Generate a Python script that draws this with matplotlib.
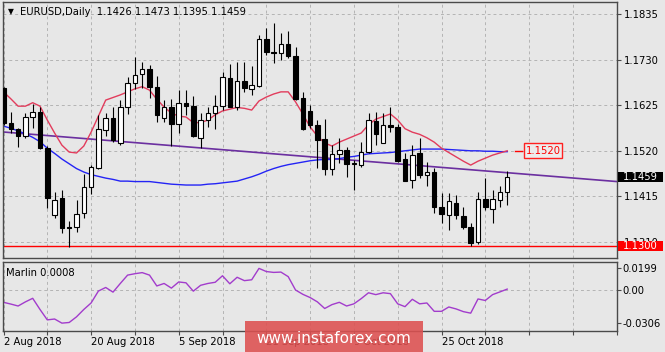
import numpy as np
import pandas as pd
import matplotlib
matplotlib.use("Agg")
import matplotlib.pyplot as plt
from matplotlib.patches import Rectangle

# ---------------- data ----------------
dates = pd.bdate_range("2018-08-02", periods=70)

opens = [1.1664, 1.1585, 1.1570, 1.1553, 1.1597, 1.1610, 1.1526, 1.1372, 1.1410, 1.1343,
         1.1343, 1.1376, 1.1437, 1.1480, 1.1568, 1.1595, 1.1539, 1.1620, 1.1677, 1.1697,
         1.1708, 1.1668, 1.1595, 1.1620, 1.1581, 1.1630, 1.1623, 1.1549, 1.1591, 1.1607,
         1.1623, 1.1687, 1.1622, 1.1682, 1.1662, 1.1670, 1.1777, 1.1748, 1.1746, 1.1766,
         1.1739, 1.1641, 1.1612, 1.1580, 1.1547, 1.1477, 1.1513, 1.1522, 1.1490, 1.1487,
         1.1518, 1.1589, 1.1539, 1.1580, 1.1574, 1.1500, 1.1453, 1.1516, 1.1464, 1.1472,
         1.1391, 1.1372, 1.1400, 1.1370, 1.1343, 1.1310, 1.1408, 1.1385, 1.1406, 1.1426]
highs = [1.1668, 1.1610, 1.1572, 1.1607, 1.1628, 1.1620, 1.1530, 1.1426, 1.1430, 1.1357,
         1.1406, 1.1466, 1.1487, 1.1603, 1.1607, 1.1620, 1.1637, 1.1690, 1.1736, 1.1726,
         1.1718, 1.1693, 1.1637, 1.1640, 1.1660, 1.1660, 1.1646, 1.1608, 1.1620, 1.1649,
         1.1703, 1.1720, 1.1726, 1.1726, 1.1716, 1.1787, 1.1803, 1.1814, 1.1793, 1.1797,
         1.1760, 1.1655, 1.1626, 1.1591, 1.1593, 1.1533, 1.1549, 1.1529, 1.1499, 1.1541,
         1.1607, 1.1610, 1.1607, 1.1622, 1.1582, 1.1515, 1.1533, 1.1549, 1.1495, 1.1480,
         1.1423, 1.1423, 1.1418, 1.1390, 1.1354, 1.1426, 1.1457, 1.1430, 1.1439, 1.1473]
lows = [1.1580, 1.1560, 1.1529, 1.1549, 1.1572, 1.1525, 1.1387, 1.1364, 1.1330, 1.1299,
        1.1333, 1.1364, 1.1420, 1.1478, 1.1553, 1.1541, 1.1533, 1.1605, 1.1662, 1.1664,
        1.1641, 1.1587, 1.1587, 1.1530, 1.1561, 1.1603, 1.1552, 1.1526, 1.1576, 1.1570,
        1.1614, 1.1620, 1.1614, 1.1656, 1.1649, 1.1668, 1.1741, 1.1723, 1.1730, 1.1735,
        1.1637, 1.1568, 1.1573, 1.1480, 1.1464, 1.1464, 1.1491, 1.1459, 1.1430, 1.1483,
        1.1515, 1.1533, 1.1537, 1.1564, 1.1494, 1.1450, 1.1433, 1.1457, 1.1439, 1.1376,
        1.1354, 1.1337, 1.1362, 1.1339, 1.1300, 1.1306, 1.1383, 1.1353, 1.1390, 1.1395]
closes = [1.1583, 1.1570, 1.1553, 1.1597, 1.1610, 1.1526, 1.1410, 1.1406, 1.1341, 1.1342,
          1.1374, 1.1437, 1.1483, 1.1570, 1.1595, 1.1545, 1.1620, 1.1677, 1.1695, 1.1708,
          1.1668, 1.1603, 1.1620, 1.1582, 1.1630, 1.1623, 1.1554, 1.1591, 1.1607, 1.1623,
          1.1690, 1.1622, 1.1682, 1.1664, 1.1672, 1.1777, 1.1749, 1.1745, 1.1766, 1.1739,
          1.1639, 1.1570, 1.1580, 1.1545, 1.1477, 1.1513, 1.1522, 1.1490, 1.1491, 1.1518,
          1.1591, 1.1559, 1.1580, 1.1574, 1.1497, 1.1451, 1.1510, 1.1464, 1.1470, 1.1390,
          1.1374, 1.1403, 1.1372, 1.1343, 1.1308, 1.1408, 1.1390, 1.1408, 1.1426, 1.1459]

ma_red = [1.1656, 1.1640, 1.1623, 1.1623, 1.1631, 1.1623, 1.1591, 1.1561, 1.1533, 1.1517,
          1.1515, 1.1531, 1.1563, 1.1600, 1.1637, 1.1643, 1.1649, 1.1656, 1.1663, 1.1668,
          1.1660, 1.1639, 1.1621, 1.1607, 1.1600, 1.1598, 1.1585, 1.1585, 1.1591, 1.1603,
          1.1612, 1.1616, 1.1620, 1.1618, 1.1614, 1.1635, 1.1644, 1.1651, 1.1656, 1.1656,
          1.1633, 1.1605, 1.1575, 1.1554, 1.1538, 1.1531, 1.1540, 1.1547, 1.1554, 1.1561,
          1.1580, 1.1593, 1.1599, 1.1605, 1.1591, 1.1571, 1.1563, 1.1558, 1.1550, 1.1540,
          1.1526, 1.1516, 1.1506, 1.1496, 1.1487, 1.1496, 1.1503, 1.1510, 1.1515, 1.1520]
ma_blue = [1.1577, 1.1572, 1.1566, 1.1559, 1.1551, 1.1541, 1.1526, 1.1514, 1.1501, 1.1490,
           1.1479, 1.1471, 1.1465, 1.1461, 1.1457, 1.1454, 1.1450, 1.1450, 1.1449, 1.1449,
           1.1449, 1.1447, 1.1445, 1.1443, 1.1442, 1.1441, 1.1441, 1.1441, 1.1443, 1.1444,
           1.1446, 1.1448, 1.1450, 1.1455, 1.1460, 1.1466, 1.1473, 1.1479, 1.1484, 1.1488,
           1.1491, 1.1494, 1.1497, 1.1499, 1.1500, 1.1500, 1.1502, 1.1505, 1.1507, 1.1510,
           1.1513, 1.1514, 1.1515, 1.1516, 1.1518, 1.1520, 1.1522, 1.1524, 1.1524, 1.1524,
           1.1524, 1.1523, 1.1522, 1.1521, 1.1520, 1.1520, 1.1519, 1.1519, 1.1518, 1.1518]
marlin = [-0.0114, -0.0130, -0.0148, -0.0110, -0.0077, -0.0180, -0.0276, -0.0268, -0.0306, -0.0300,
          -0.0248, -0.0180, -0.0120, -0.0010, 0.0023, -0.0020, 0.0060, 0.0137, 0.0150, 0.0160,
          0.0137, 0.0037, 0.0060, 0.0017, 0.0074, 0.0066, -0.0011, 0.0043, 0.0060, 0.0071,
          0.0131, 0.0057, 0.0117, 0.0086, 0.0094, 0.0199, 0.0170, 0.0162, 0.0165, 0.0123,
          0.0000, -0.0040, -0.0070, -0.0110, -0.0171, -0.0135, -0.0114, -0.0148, -0.0128, -0.0080,
          -0.0026, -0.0043, -0.0026, -0.0034, -0.0128, -0.0154, -0.0086, -0.0128, -0.0120, -0.0197,
          -0.0197, -0.0157, -0.0175, -0.0200, -0.0214, -0.0083, -0.0097, -0.0043, -0.0018, 0.0008]

trend_bars = [-0.48, 84.04]
trend_prices = [1.1564, 1.1449]
support_level = 1.1300
label_level = 1.1520
price_ticks = [1.1310, 1.1415, 1.1520, 1.1625, 1.1730, 1.1835]
marlin_ticks = [-0.0306, 0.0, 0.0199]
marlin_tick_labels = ["-0.0306", "0.00", "0.0199"]
title = "EURUSD,Daily  1.1426 1.1473 1.1395 1.1459"
marlin_title = "Marlin 0.0008"

# ---------------- figure ----------------
W, H = 665, 352
fig = plt.figure(figsize=(W / 100, H / 100), dpi=100)
bg = "#e7e7e7"
fig.patch.set_facecolor(bg)
plt.rcParams["font.family"] = ["DejaVu Sans"]

def fx(px):
    return px / W

def fy(py):
    return 1 - py / H

L, R = 2.7, 616.7
ax = fig.add_axes([fx(L), fy(258), fx(R) - fx(L), fy(2.3) - fy(258)])
ax2 = fig.add_axes([fx(L), fy(330.5), fx(R) - fx(L), fy(262) - fy(330.5)])

o = np.array(opens); h = np.array(highs); lo = np.array(lows); c = np.array(closes)
idx = np.arange(len(o))
xl = (-0.11, 84.0)
grid_kw = dict(color="#b4b4b4", lw=0.7, ls=(0, (3, 3)))
spine_c = "#4a4a4a"
fs = 7.2

for a in (ax, ax2):
    a.set_facecolor(bg)
    a.set_xlim(*xl)
    for s in a.spines.values():
        s.set_color(spine_c)
        s.set_linewidth(1.0)
    a.set_xticks(np.arange(0, 85, 6))
    a.grid(True, axis="x", **grid_kw)
    a.yaxis.tick_right()
    a.set_axisbelow(True)

# main panel
ax.set_ylim(1.12726, 1.18627)
ax.set_yticks(price_ticks)
ax.set_yticklabels([f"{v:.4f}" for v in price_ticks])
ax.grid(True, axis="y", **grid_kw)
ax.tick_params(axis="x", length=0, labelbottom=False)
ax.tick_params(axis="y", length=3, width=0.8, color=spine_c, labelsize=fs, pad=2.5)

ax.plot(trend_bars, trend_prices, color="#6b2fa0", lw=1.2, zorder=2, solid_capstyle="butt")
ax.plot(idx, ma_blue, color="#2424f5", lw=1.0, zorder=2)
ax.plot(idx, ma_red, color="#e23c5c", lw=1.0, zorder=2)
ax.axhline(support_level, color="#ff0000", lw=1.0, zorder=2)

up = c >= o
ax.vlines(idx, lo, h, color="black", lw=0.8, zorder=3)
ax.bar(idx, np.abs(c - o), bottom=np.minimum(o, c), width=0.62,
       color=np.where(up, "white", "black"), edgecolor="black", linewidth=0.8, zorder=4)

# lower panel
ax2.set_ylim(-0.0374, 0.0258)
ax2.set_yticks(marlin_ticks)
ax2.set_yticklabels(marlin_tick_labels)
ax2.axhline(0, zorder=0, **grid_kw)
ax2.plot(idx, marlin, color="#a23ccc", lw=1.0)
xt = np.arange(0, 85, 6)
ax2.set_xticklabels([dates[int(t)].strftime("%-d %b %Y") if (t % 12 == 0 and t < len(dates) - 5) else ""
                     for t in xt])
for lab in ax2.get_xticklabels():
    lab.set_ha("left")
ax2.tick_params(axis="x", length=3, width=0.8, color=spine_c, labelsize=fs, pad=2)
ax2.tick_params(axis="y", length=3, width=0.8, color=spine_c, labelsize=fs, pad=1)

fig.canvas.draw()

def ypx(a, v):
    return a.transData.transform((0, v))[1]

# right-hand price boxes
for val, fc in ((closes[-1], "black"), (support_level, "#ff0000")):
    yc = ypx(ax, val)
    fig.add_artist(Rectangle((fx(618), (yc - 5.2) / H), 45 / W, 10.4 / H,
                             transform=fig.transFigure, fc=fc, ec="none", zorder=5))
    fig.text(fx(622.5), yc / H, f"{val:.4f}", color="white", fontsize=fs,
             va="center", ha="left", zorder=6)

# in-chart 1.1520 label
yc = ypx(ax, label_level)
x_end = ax.transData.transform((len(idx) - 1, 0))[0]
fig.add_artist(plt.Line2D([ (x_end + 8) / W, (x_end + 15) / W], [yc / H, yc / H],
                          transform=fig.transFigure, color="#ff0000", lw=1.0))
fig.add_artist(Rectangle(((x_end + 17) / W, (yc - 7.5) / H), 38 / W, 15 / H,
                         transform=fig.transFigure, fc="#ececec", ec="#ff2020", lw=1.0, zorder=5))
fig.text((x_end + 36) / W, yc / H, f"{label_level:.4f}", color="#ff0000", fontsize=fs,
         va="center", ha="center", zorder=6)

# titles
fig.text(fx(8), fy(12), "\u25BC", fontsize=5.5, va="center", ha="left")
fig.text(fx(20), fy(12), title, fontsize=fs, va="center", ha="left")
fig.text(fx(6), fy(272.5), marlin_title, fontsize=fs, va="center", ha="left")

# watermark
fig.add_artist(Rectangle((fx(245), fy(351.7)), 177.7 / W, 31 / H, transform=fig.transFigure,
                         fc="#dd5050", alpha=0.88, ec="none", zorder=8))
fig.text(fx(333.5), fy(343.3), "www.instaforex.com", color="white", fontsize=11,
         va="baseline", ha="center", zorder=9)

fig.savefig("out.png", dpi=100, facecolor=bg)
